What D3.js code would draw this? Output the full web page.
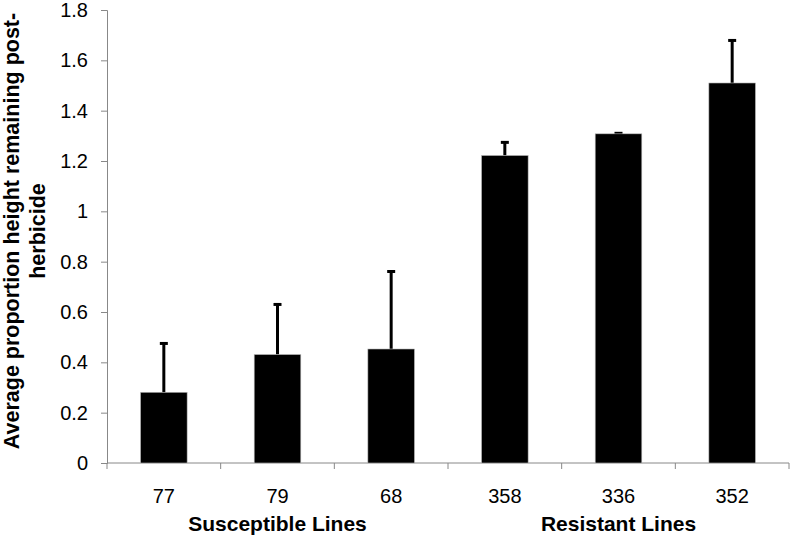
<!DOCTYPE html>
<html>
<head>
<meta charset="utf-8">
<script src="https://cdn.jsdelivr.net/npm/d3@7"></script>
<style>
    body { margin: 0; background: #fff; }
    text { font-family: "Liberation Sans", Arial, sans-serif; fill: #000; }
</style>
</head>
<body>
<script>
var lines = ["77", "79", "68", "358", "336", "352"];
var means = [0.281, 0.431, 0.453, 1.222, 1.308, 1.510];
var errTops = [0.479, 0.634, 0.765, 1.278, 1.314, 1.683];
var groups = [
    { name: "Susceptible Lines", at: "79" },
    { name: "Resistant Lines", at: "336" }
];
var yTicks = [0, 0.2, 0.4, 0.6, 0.8, 1, 1.2, 1.4, 1.6, 1.8];

var width = 793, height = 538;
var plotLeft = 107, plotRight = 789, plotTop = 10, plotBottom = 463;

var svg = d3.select("body").append("svg")
    .attr("width", width)
    .attr("height", height);

var x = d3.scaleBand()
    .domain(lines)
    .range([plotLeft, plotRight])
    .paddingInner(0.59)
    .paddingOuter(0.295);

var band = d3.scaleBand().domain(lines).range([plotLeft, plotRight]);

var y = d3.scaleLinear()
    .domain([0, 1.8])
    .range([plotBottom, plotTop]);

// y axis
var yAxis = svg.append("g")
    .attr("transform", "translate(" + plotLeft + ",0)")
    .call(d3.axisLeft(y).tickValues(yTicks).tickSize(6).tickPadding(13)
        .tickFormat(function (d) { return String(+d.toFixed(1)); }));
yAxis.select(".domain").attr("stroke", "#888");
yAxis.selectAll(".tick line").attr("stroke", "#888");
yAxis.selectAll(".tick text")
    .attr("font-size", 20)
    .attr("font-family", "Liberation Sans, Arial, sans-serif");

// x axis line and ticks at band edges
var xg = svg.append("g");
xg.append("line")
    .attr("x1", plotLeft).attr("x2", plotRight)
    .attr("y1", plotBottom).attr("y2", plotBottom)
    .attr("stroke", "#888");
var edges = lines.map(function (d) { return band(d); }).concat([plotRight]);
xg.selectAll(".xt")
    .data(edges)
    .enter()
    .append("line")
    .attr("x1", function (d) { return d; })
    .attr("x2", function (d) { return d; })
    .attr("y1", plotBottom)
    .attr("y2", plotBottom + 6)
    .attr("stroke", "#888");

xg.selectAll(".xl")
    .data(lines)
    .enter()
    .append("text")
    .attr("x", function (d) { return band(d) + band.bandwidth() / 2; })
    .attr("y", 503)
    .attr("text-anchor", "middle")
    .attr("font-size", 20)
    .text(function (d) { return d; });

svg.selectAll(".grp")
    .data(groups)
    .enter()
    .append("text")
    .attr("x", function (d) { return band(d.at) + band.bandwidth() / 2; })
    .attr("y", 531)
    .attr("text-anchor", "middle")
    .attr("font-size", 21)
    .attr("font-weight", "bold")
    .text(function (d) { return d.name; });

// error bars (upper only)
var err = svg.append("g");
lines.forEach(function (d, i) {
    var cx = x(d) + x.bandwidth() / 2;
    err.append("line")
        .attr("x1", cx).attr("x2", cx)
        .attr("y1", y(means[i])).attr("y2", y(errTops[i]))
        .attr("stroke", "#000").attr("stroke-width", 3);
    err.append("line")
        .attr("x1", cx - 4).attr("x2", cx + 4)
        .attr("y1", y(errTops[i]) + 1).attr("y2", y(errTops[i]) + 1)
        .attr("stroke", "#000").attr("stroke-width", 3);
});

// bars
svg.selectAll(".bar")
    .data(means)
    .enter()
    .append("rect")
    .attr("x", function (d, i) { return x(lines[i]); })
    .attr("y", function (d) { return y(d); })
    .attr("width", x.bandwidth())
    .attr("height", function (d) { return plotBottom - y(d); })
    .attr("fill", "#000")
    .attr("stroke", "#bbb")
    .attr("stroke-width", 0.6);

// y title, two lines
var title = svg.append("text")
    .attr("transform", "translate(19,231) rotate(-90)")
    .attr("text-anchor", "middle")
    .attr("font-size", 21.5)
    .attr("font-weight", "bold");
title.append("tspan").attr("x", 0).attr("y", 0).text("Average proportion height remaining post-");
title.append("tspan").attr("x", 0).attr("y", 26).text("herbicide");
</script>
</body>
</html>
